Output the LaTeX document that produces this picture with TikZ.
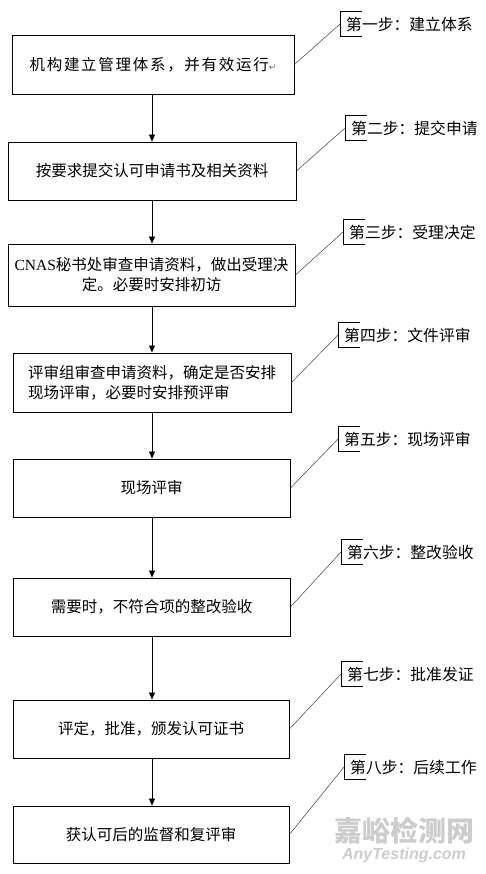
\documentclass[tikz,border=0pt]{standalone}
\usepackage{fontspec}
\setmainfont{Noto Sans CJK SC}
\newfontfamily\latinfont{Liberation Serif}
\newfontfamily\symbfont{DejaVu Sans}
\newfontfamily\wmfont{Liberation Sans}
\usepackage{tikz}
\usetikzlibrary{arrows.meta}

\begin{document}
\begin{tikzpicture}[x=1pt, y=-1pt,
        box/.style={draw, line width=0.9pt, inner sep=0pt, align=center,
            font=\fontsize{15.5}{20}\selectfont},
        tag/.style={anchor=west, inner xsep=6pt, inner ysep=0pt,
            minimum height=24pt, font=\fontsize{15.8}{18}\selectfont},
        tagline/.style={line width=0.8pt},
        lead/.style={line width=0.5pt, draw=black!75},
        flow/.style={-{Triangle[length=7pt,width=6pt]}, line width=0.8pt},
        wm/.style={text=black!20, inner sep=0pt}]
        \useasboundingbox (0,0) rectangle (486,874);

        % the eight steps
        \node [box, minimum width=282pt, minimum height=59pt] (b1) at (153,64.5)
            {\addfontfeature{LetterSpace=11}机构建立管理体系，并有效运行{\symbfont\fontsize{9}{9}\selectfont\color{black!60}↵}};
        \node [box, minimum width=288pt, minimum height=58pt] (b2) at (152,171)
            {按要求提交认可申请书及相关资料};
        \node [box, minimum width=287pt, minimum height=62pt] (b3) at (151.5,275)
            {{\latinfont CNAS}秘书处审查申请资料，做出受理决\\定。必要时安排初访};
        \node [box, minimum width=278pt, minimum height=59pt, align=left] (b4) at (152,382.5)
            {评审组审查申请资料，确定是否安排\\现场评审，必要时安排预评审};
        \node [box, minimum width=277pt, minimum height=58pt] (b5) at (151.5,488)
            {现场评审};
        \node [box, minimum width=277pt, minimum height=58pt] (b6) at (151.5,607)
            {需要时，不符合项的整改验收};
        \node [box, minimum width=276pt, minimum height=58pt] (b7) at (151,729)
            {评定，批准，颁发认可证书};
        \node [box, minimum width=276pt, minimum height=57pt] (b8) at (151,834.5)
            {获认可后的监督和复评审};

        % arrows between steps
        \foreach \i/\j in {1/2, 2/3, 3/4, 4/5, 5/6, 6/7, 7/8}
            \draw [flow] (152,0 |- b\i.south) -- (152,0 |- b\j.north);

        % step labels
        \node [tag] (s1) at (340,24) {第一步：建立体系};
        \node [tag] (s2) at (345,128) {第二步：提交申请};
        \node [tag] (s3) at (343,232) {第三步：受理决定};
        \node [tag] (s4) at (338,335) {第四步：文件评审};
        \node [tag] (s5) at (338,439) {第五步：现场评审};
        \node [tag] (s6) at (341,552) {第六步：整改验收};
        \node [tag] (s7) at (341,674) {第七步：批准发证};
        \node [tag] (s8) at (344,767) {第八步：后续工作};

        \foreach \i in {1,...,8} {
            \draw [tagline] ([xshift=22pt]s\i.north west) -- (s\i.north west)
                -- (s\i.south west) -- ([xshift=22pt]s\i.south west);
            \draw [lead] (b\i.east) -- (s\i.west);
        }

        % watermark
        \node [wm, font=\fontsize{28}{28}\selectfont\bfseries] (wmcn) at (404,831) {嘉峪检测网};
        \node [wm, font=\wmfont\fontsize{16}{16}\selectfont\bfseries\itshape] (wmen) at (404,855) {AnyTesting.com};
    \end{tikzpicture}
\end{document}
